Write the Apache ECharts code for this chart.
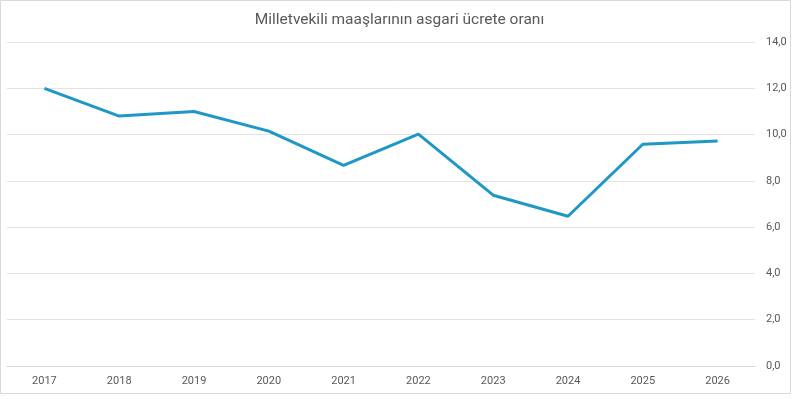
<!DOCTYPE html>
<html>
<head>
<meta charset="utf-8">
<script src="https://cdn.jsdelivr.net/npm/echarts@6/dist/echarts.min.js"></script>
<style>
  html, body { margin: 0; padding: 0; background: #fff; }
  #main { width: 799px; height: 399px; }
</style>
</head>
<body>
<div id="main"></div>
<script>
// yıllar ve oranlar
var years = ["2017", "2018", "2019", "2020", "2021", "2022", "2023", "2024", "2025", "2026"];
var ratios = [12.0, 10.8, 11.0, 10.15, 8.67, 10.02, 7.38, 6.47, 9.58, 9.72];
var yTicks = [0, 2, 4, 6, 8, 10, 12, 14];

var myChart = echarts.init(document.getElementById("main"));
myChart.setOption({
  animation: false,
  title: {
    text: "Milletvekili maaşlarının asgari ücrete oranı",
    left: "center",
    top: 7,
    textStyle: {
      fontFamily: "Roboto, sans-serif",
      fontSize: 15.5,
      fontWeight: "normal",
      color: "#595959",
    },
  },
  graphic: [
    {
      type: "rect",
      shape: { x: 0.5, y: 0.5, width: 790, height: 393 },
      style: { fill: "none", stroke: "#d9d9d9", lineWidth: 1 },
      silent: true,
    },
  ],
  grid: { left: 7, right: 44, top: 42, bottom: 33 },
  xAxis: {
    type: "category",
    data: years,
    boundaryGap: true,
    axisLine: { show: true, lineStyle: { color: "#d9d9d9" } },
    axisTick: { show: false },
    axisLabel: {
      color: "#595959",
      fontSize: 11,
      margin: 10,
      fontFamily: "Roboto, sans-serif",
    },
  },
  yAxis: {
    type: "value",
    position: "right",
    min: yTicks[0],
    max: yTicks[yTicks.length - 1],
    interval: 2,
    axisLine: { show: false },
    axisTick: { show: false },
    splitLine: { lineStyle: { color: "#e3e3e3", width: 1 } },
    axisLabel: {
      color: "#595959",
      fontSize: 11,
      margin: 11,
      fontFamily: "Roboto, sans-serif",
      formatter: function (v) {
        return v.toFixed(1).replace(".", ",");
      },
    },
  },
  series: [
    {
      type: "line",
      data: ratios,
      symbol: "none",
      lineStyle: { color: "#1f97c7", width: 3 },
      itemStyle: { color: "#1f97c7" },
    },
  ],
});
</script>
</body>
</html>
